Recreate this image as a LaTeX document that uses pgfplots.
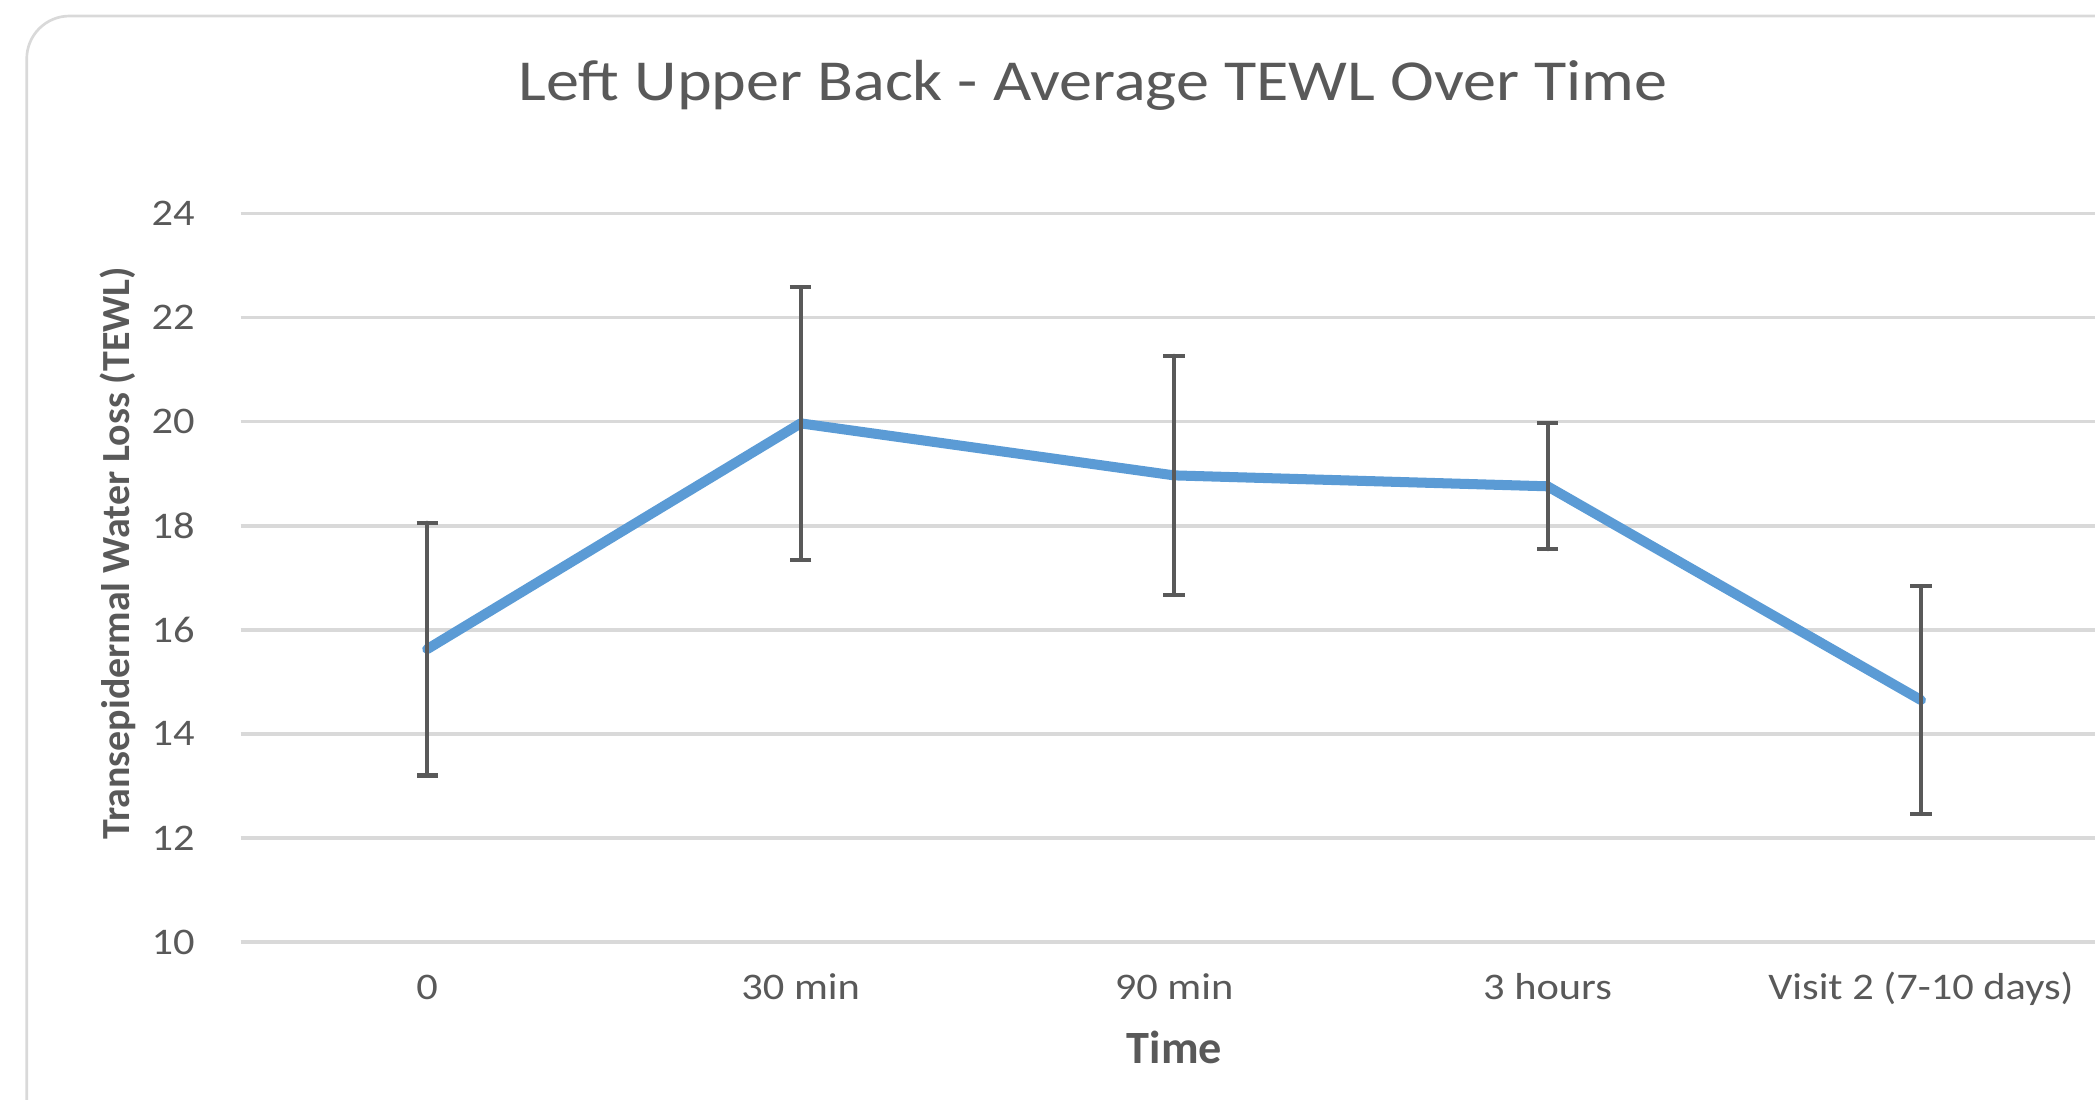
\documentclass[border=0pt]{standalone}
\usepackage{fontspec}
\setmainfont{Carlito}
\usepackage{pgfplots}
\pgfplotsset{compat=1.18}
\definecolor{lineblue}{HTML}{5B9BD5}
\definecolor{txtgray}{HTML}{595959}
\definecolor{gridgray}{HTML}{D9D9D9}
\begin{document}
\begin{tikzpicture}
\begin{axis}[
  at={(36mm,23.6mm)}, anchor=south west,
  scale only axis, width=279.5mm, height=109mm,
  xmin=-0.5, xmax=4.5, ymin=10, ymax=24,
  ytick={10,12,...,24},
  xtick={0,1,2,3,4},
  xticklabels={0,30 min,90 min,3 hours,Visit 2 (7-10 days)},
  axis line style={draw=none},
  major tick length=0pt,
  ymajorgrids, grid style={gridgray, line width=0.5mm},
  clip=false,
  /pgf/number format/assume math mode=true,
  ticklabel style={font=\fontsize{16}{18}\selectfont, text=txtgray, inner sep=0pt, xscale=1.13},
  yticklabel style={anchor=east, xshift=-6mm},
  xticklabel style={anchor=base, yshift=-8.6mm},
]
\addplot[lineblue, line width=1.5mm, line cap=round, line join=round, mark=none,
  error bars/.cd, y dir=both, y explicit,
  error bar style={txtgray, line width=0.6mm},
  error mark options={rotate=90, txtgray, line width=0.6mm, mark size=1.6mm}]
  coordinates {
  (0,15.63) +- (0,2.43)
  (1,19.97) +- (0,2.62)
  (2,18.97) +- (0,2.30)
  (3,18.76) +- (0,1.21)
  (4,14.65) +- (0,2.19)
};
\end{axis}
\draw[gridgray, line width=0.4mm, rounded corners=6.4mm] (330mm,162.2mm) -- (4mm,162.2mm) -- (4mm,-10mm);
\node[text=txtgray, font=\fontsize{24.7}{28}\selectfont, inner sep=0pt, xscale=1.14] at (163.6mm,151.8mm) {Left Upper Back - Average TEWL Over Time};
\node[text=txtgray, font=\bfseries\fontsize{19.7}{22}\selectfont, inner sep=0pt] at (175.8mm,7.8mm) {Time};
\node[text=txtgray, font=\bfseries\fontsize{17}{20}\selectfont, inner sep=0pt, rotate=90] at (17.6mm,81.8mm) {Transepidermal Water Loss (TEWL)};
\pgfresetboundingbox
\path[use as bounding box] (0,0) rectangle (313.6mm,164.6mm);
\end{tikzpicture}
\end{document}
